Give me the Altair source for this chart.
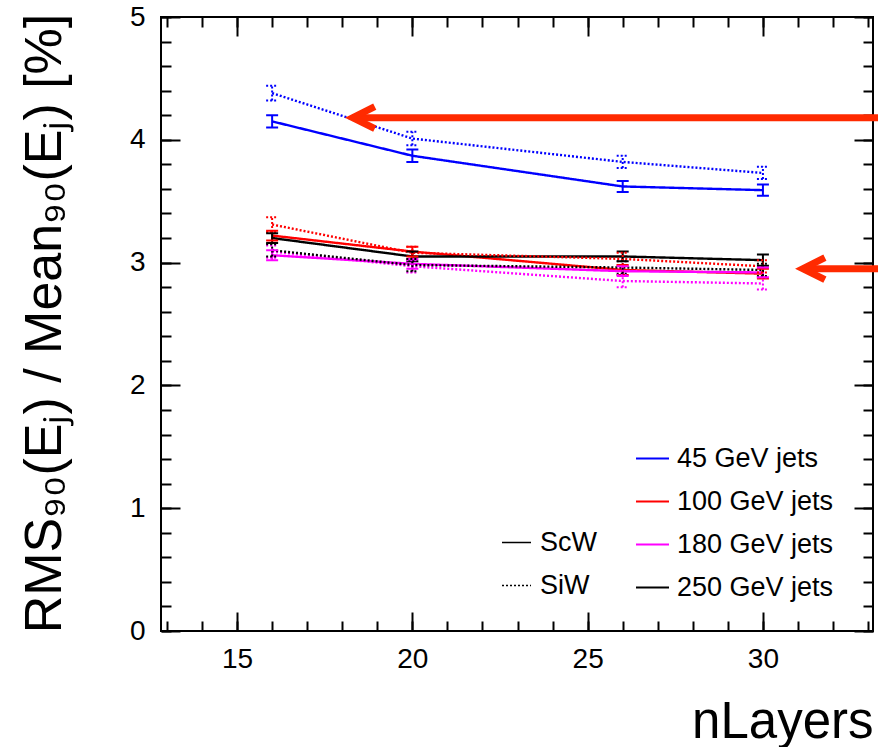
import altair as alt
import pandas as pd

# ---------------- data ----------------
nlayers = [16, 20, 26, 30]
energies = ["45 GeV jets", "100 GeV jets", "180 GeV jets", "250 GeV jets"]
energy_colors = ["#0000ff", "#ff0000", "#ff00ff", "#000000"]
detectors = ["ScW", "SiW"]

scw_45 = [4.15, 3.87, 3.62, 3.59]
scw_100 = [3.22, 3.09, 2.94, 2.91]
scw_180 = [3.06, 2.99, 2.93, 2.92]
scw_250 = [3.20, 3.05, 3.05, 3.02]
siw_45 = [4.38, 4.01, 3.82, 3.73]
siw_100 = [3.31, 3.08, 3.03, 2.97]
siw_180 = [3.09, 2.97, 2.85, 2.83]
siw_250 = [3.10, 2.98, 2.96, 2.94]

scw_45_err = [0.05, 0.05, 0.045, 0.045]
scw_100_err = [0.04, 0.04, 0.04, 0.04]
scw_180_err = [0.04, 0.04, 0.04, 0.04]
scw_250_err = [0.04, 0.04, 0.04, 0.045]
siw_45_err = [0.06, 0.055, 0.05, 0.05]
siw_100_err = [0.06, 0.05, 0.05, 0.05]
siw_180_err = [0.05, 0.05, 0.05, 0.05]
siw_250_err = [0.05, 0.05, 0.05, 0.05]

arrow_y = [4.18, 2.95]
arrow_head_x = [18.3, 31.14]
arrow_tail_x = [33.4, 33.4]

x_major = [15, 20, 25, 30]
x_minor = list(range(13, 34))
y_major = [0, 1, 2, 3, 4, 5]
y_minor = [i / 5 for i in range(26)]

series = [
    ("ScW", energies[0], scw_45, scw_45_err),
    ("ScW", energies[1], scw_100, scw_100_err),
    ("ScW", energies[2], scw_180, scw_180_err),
    ("ScW", energies[3], scw_250, scw_250_err),
    ("SiW", energies[0], siw_45, siw_45_err),
    ("SiW", energies[1], siw_100, siw_100_err),
    ("SiW", energies[2], siw_180, siw_180_err),
    ("SiW", energies[3], siw_250, siw_250_err),
]
rows = []
for det, en, vals, errs in series:
    for n, v, e in zip(nlayers, vals, errs):
        rows.append(dict(nlayers=n, value=v, lo=v - e, hi=v + e, energy=en, detector=det))
df = pd.DataFrame(rows)
arrows = pd.DataFrame(dict(head=arrow_head_x, tail=arrow_tail_x, y=arrow_y))

# ---------------- styling ----------------
FONT = "Liberation Sans"
W, H = 712, 614
ARROW = "#ff2a00"

xs = alt.Scale(domain=[12.83, 33.14], nice=False, zero=False)
ys = alt.Scale(domain=[0, 5], nice=False, zero=False)
color_scale = alt.Scale(domain=energies, range=energy_colors)
dash_scale = alt.Scale(domain=detectors, range=[[1, 0], [2, 2]])


def tick_axis(orient, values, length):
    return alt.Axis(orient=orient, values=values, offset=-length, tickSize=length,
                    tickWidth=2, tickColor="black", labels=False, domain=False,
                    grid=False, title=None)


x_label_axis = alt.Axis(
    orient="bottom", values=x_major, ticks=False, tickSize=0, domain=False, grid=False,
    labelFontSize=28, labelPadding=14, labelFont=FONT, labelColor="black",
    title="nLayers", titleFontSize=51, titleFont=FONT, titleFontWeight="normal",
    titleColor="black", titleX=W, titleY=106, titleAlign="right",
    titleBaseline="alphabetic")
y_label_axis = alt.Axis(
    orient="left", values=y_major, ticks=False, tickSize=0, domain=False, grid=False,
    labelFontSize=28, labelPadding=16, labelFont=FONT, labelColor="black",
    title="RMS₉₀(Eⱼ) / Mean₉₀(Eⱼ) [%]", titleFontSize=52, titleFont=FONT,
    titleFontWeight="normal", titleColor="black", titleAngle=270, titleX=-101,
    titleY=306, titleAlign="center", titleBaseline="alphabetic")

color_legend = alt.Legend(
    title=None, orient="none", legendX=474, legendY=424, symbolType="stroke",
    symbolSize=1089, symbolStrokeWidth=2, labelFontSize=27, labelFont=FONT,
    labelColor="black", rowPadding=12, padding=0, labelOffset=7, labelLimit=400)
dash_legend = alt.Legend(
    title=None, orient="none", legendX=340, legendY=510, symbolType="stroke",
    symbolSize=841, symbolStrokeWidth=1.5, symbolStrokeColor="black",
    labelFontSize=27, labelFont=FONT, labelColor="black", rowPadding=14, padding=0,
    labelOffset=8, labelLimit=400)

base = alt.Chart(df)

lines = base.mark_line(strokeWidth=2.4).encode(
    x=alt.X("nlayers:Q", scale=xs, axis=x_label_axis),
    y=alt.Y("value:Q", scale=ys, axis=y_label_axis),
    color=alt.Color("energy:N", scale=color_scale, legend=color_legend),
    strokeDash=alt.StrokeDash("detector:N", scale=dash_scale, legend=dash_legend),
)

err = base.mark_rule(strokeWidth=2).encode(
    x=alt.X("nlayers:Q", scale=xs, axis=tick_axis("bottom", x_major, 19)),
    y=alt.Y("lo:Q", scale=ys, axis=tick_axis("left", y_major, 19)),
    y2="hi:Q",
    color=alt.Color("energy:N", scale=color_scale),
    strokeDash=alt.StrokeDash("detector:N", scale=dash_scale),
)

cap_lo = base.mark_rule(strokeWidth=2, xOffset=-6, x2Offset=6).encode(
    x=alt.X("nlayers:Q", scale=xs, axis=tick_axis("bottom", x_minor, 10)),
    x2="nlayers:Q",
    y=alt.Y("lo:Q", scale=ys, axis=tick_axis("left", y_minor, 10)),
    color=alt.Color("energy:N", scale=color_scale),
    strokeDash=alt.StrokeDash("detector:N", scale=dash_scale),
)

cap_hi = base.mark_rule(strokeWidth=2, xOffset=-6, x2Offset=6).encode(
    x=alt.X("nlayers:Q", scale=xs, axis=tick_axis("top", x_major, 19)),
    x2="nlayers:Q",
    y=alt.Y("hi:Q", scale=ys, axis=tick_axis("right", y_major, 19)),
    color=alt.Color("energy:N", scale=color_scale),
    strokeDash=alt.StrokeDash("detector:N", scale=dash_scale),
)

shafts = alt.Chart(arrows).mark_rule(strokeWidth=7, color=ARROW, strokeCap="butt").encode(
    x=alt.X("head:Q", scale=xs, axis=tick_axis("top", x_minor, 10)),
    x2="tail:Q",
    y=alt.Y("y:Q", scale=ys, axis=tick_axis("right", y_minor, 10)),
)

heads = alt.Chart(arrows).mark_point(
    shape="M2,-1L0,0L2,1", size=484, filled=False, strokeWidth=7, color=ARROW,
    opacity=1, strokeJoin="miter").encode(
    x=alt.X("head:Q", scale=xs, axis=None),
    y=alt.Y("y:Q", scale=ys, axis=None),
)

chart = alt.layer(lines, err, cap_lo, cap_hi, shafts, heads).resolve_scale(
    x="shared", y="shared"
).resolve_axis(
    x="independent", y="independent"
).properties(
    width=W, height=H,
    autosize=alt.AutoSizeParams(type="none"),
    padding={"left": 161, "top": 17, "right": 5, "bottom": 116},
    background="white",
).configure_view(stroke="black", strokeWidth=2)

chart.save("out.html", embed_options={"renderer": "svg", "actions": False})
